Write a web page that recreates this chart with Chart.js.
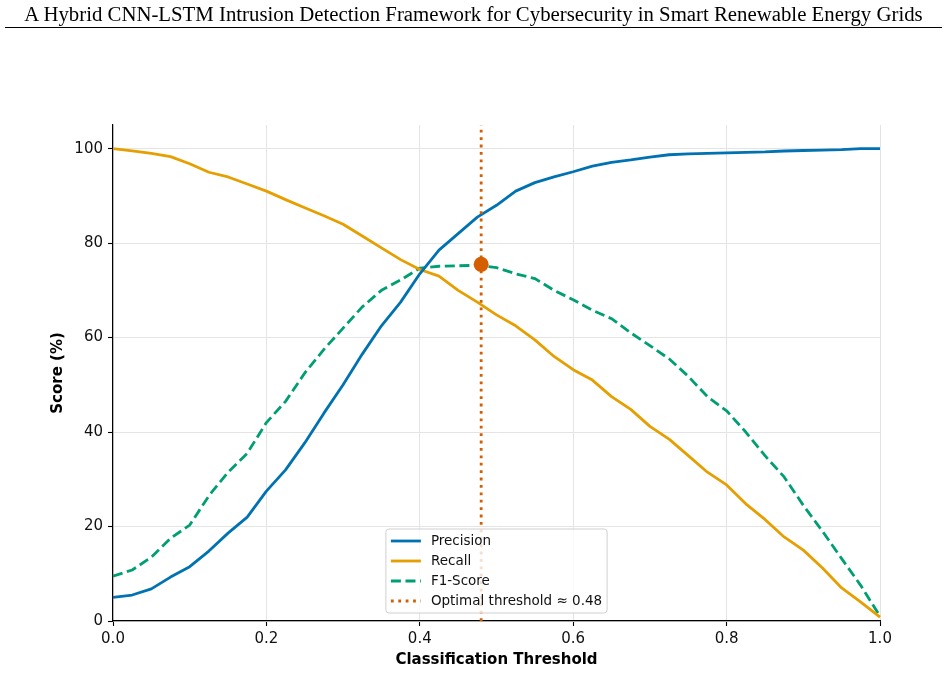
<!DOCTYPE html>
<html>
<head>
<meta charset="utf-8">
<title>Precision / Recall / F1 vs threshold</title>
<script src="https://cdn.jsdelivr.net/npm/chart.js@4.4.1/dist/chart.umd.min.js"></script>
<style>
    html, body { margin: 0; padding: 0; background: #fff; }
    body { width: 948px; height: 673px; position: relative; overflow: hidden; }
    #header {
        position: absolute; left: 5px; top: 0; width: 937px; height: 27px;
        border-bottom: 1.3px solid #000;
        font-family: "Liberation Serif", "Times New Roman", serif;
        font-size: 20.8px; line-height: 28px; text-align: center; color: #000;
        white-space: nowrap;
    }
    #chart { position: absolute; left: 0; top: 0; }
</style>
</head>
<body>
<canvas id="chart" width="948" height="673"></canvas>
<div id="header">A Hybrid CNN-LSTM Intrusion Detection Framework for Cybersecurity in Smart Renewable Energy Grids</div>
<script>
// --- datos ---
const thresholds = [
    0, 0.025, 0.05, 0.075, 0.1, 0.125, 0.15, 0.175, 0.2, 0.225,
    0.25, 0.275, 0.3, 0.325, 0.35, 0.375, 0.4, 0.425, 0.45, 0.475,
    0.5, 0.525, 0.55, 0.575, 0.6, 0.625, 0.65, 0.675, 0.7, 0.725,
    0.75, 0.775, 0.8, 0.825, 0.85, 0.875, 0.9, 0.925, 0.95, 0.975, 1.0
];
const precision = [
    5.0, 5.5, 6.8, 9.3, 11.5, 14.8, 18.6, 22.0, 27.5, 32.0,
    37.7, 44.0, 50.0, 56.5, 62.5, 67.5, 73.5, 78.5, 82.0, 85.5,
    88.0, 91.0, 92.8, 94.0, 95.1, 96.3, 97.1, 97.6, 98.2, 98.7,
    98.9, 99.0, 99.1, 99.2, 99.3, 99.5, 99.6, 99.7, 99.8, 100, 100
];
const recall = [
    100, 99.5, 99.0, 98.3, 96.8, 95.0, 94.0, 92.5, 91.0, 89.2,
    87.5, 85.8, 84.0, 81.5, 79.0, 76.5, 74.4, 73.0, 70.0, 67.5,
    64.8, 62.5, 59.5, 56.0, 53.2, 51.0, 47.5, 44.8, 41.2, 38.5,
    35.0, 31.5, 28.8, 24.8, 21.5, 17.8, 15.0, 11.2, 7.0, 4.0, 0.8
];
const f1Score = [
    9.5, 10.8, 13.5, 17.5, 20.3, 26.5, 31.5, 35.5, 42.0, 46.5,
    52.5, 57.5, 62.0, 66.5, 70.0, 72.2, 74.7, 75.1, 75.2, 75.3,
    74.8, 73.5, 72.5, 70.0, 68.0, 65.8, 64.0, 61.0, 58.3, 55.5,
    51.8, 47.5, 44.5, 40.0, 35.0, 30.5, 24.5, 19.0, 13.2, 7.5, 1.0
];
const optimalThreshold = 0.48;
const optimalF1 = 75.5;
const xTicks = [0, 0.2, 0.4, 0.6, 0.8, 1.0];
const yTicks = [0, 20, 40, 60, 80, 100];

const toPoints = (xs, ys) => xs.map((x, i) => ({ x: x, y: ys[i] }));

// leyenda propia dentro del area del grafico (abajo, centrada)
const innerLegend = {
    id: 'innerLegend',
    afterDraw(chart) {
        const ctx = chart.ctx;
        const area = chart.chartArea;
        const items = chart.data.datasets.filter(d => d.label);
        ctx.save();
        ctx.font = '13.5px "DejaVu Sans"';
        const textW = Math.max(...items.map(d => ctx.measureText(d.label).width));
        const w = 45 + textW + 5;
        const h = items.length * 20 + 4;
        const left = (area.left + area.right) / 2 - w / 2;
        const top = area.bottom - 8 - h;

        ctx.beginPath();
        ctx.roundRect(left, top, w, h, 3);
        ctx.fillStyle = 'rgba(255,255,255,0.8)';
        ctx.fill();
        ctx.lineWidth = 1;
        ctx.strokeStyle = '#d0d0d0';
        ctx.stroke();

        items.forEach((d, i) => {
            const y = top + 12 + i * 20;
            ctx.beginPath();
            ctx.setLineDash(d.borderDash || []);
            ctx.lineWidth = d.borderWidth;
            ctx.strokeStyle = d.borderColor;
            ctx.lineCap = 'butt';
            ctx.moveTo(left + 5, y);
            ctx.lineTo(left + 35, y);
            ctx.stroke();
            ctx.setLineDash([]);
            ctx.fillStyle = '#111';
            ctx.textBaseline = 'middle';
            ctx.textAlign = 'left';
            ctx.fillText(d.label, left + 45, y);
        });
        ctx.restore();
    }
};

const ctx = document.getElementById('chart').getContext('2d');
new Chart(ctx, {
    type: 'line',
    data: {
        datasets: [
            {
                // punto optimo (encima de todo)
                data: [{ x: optimalThreshold, y: optimalF1 }],
                showLine: false,
                pointRadius: 7.5,
                pointStyle: 'circle',
                pointBackgroundColor: '#D55E00',
                pointBorderColor: '#D55E00',
                pointBorderWidth: 0,
                order: 0
            },
            {
                label: 'Precision',
                data: toPoints(thresholds, precision),
                borderColor: '#0072B2',
                borderWidth: 2.8,
                order: 2
            },
            {
                label: 'Recall',
                data: toPoints(thresholds, recall),
                borderColor: '#E69F00',
                borderWidth: 2.8,
                order: 3
            },
            {
                label: 'F1-Score',
                data: toPoints(thresholds, f1Score),
                borderColor: '#009E73',
                borderWidth: 2.8,
                borderDash: [10, 4.6],
                order: 4
            },
            {
                label: 'Optimal threshold \u2248 ' + optimalThreshold.toFixed(2),
                data: [{ x: optimalThreshold, y: 0 }, { x: optimalThreshold, y: 105 }],
                borderColor: '#D55E00',
                borderWidth: 2.8,
                borderDash: [2.8, 4.6],
                borderCapStyle: 'butt',
                order: 1
            }
        ]
    },
    options: {
        responsive: false,
        animation: false,
        clip: false,
        elements: {
            point: { radius: 0 },
            line: { tension: 0, fill: false, borderJoinStyle: 'round' }
        },
        layout: { padding: { top: 125, right: 68, left: 40, bottom: 0 } },
        plugins: {
            legend: { display: false },
            tooltip: { enabled: false }
        },
        scales: {
            x: {
                type: 'linear',
                min: 0,
                max: 1,
                afterFit: s => { s.height = 52; },
                afterBuildTicks: s => { s.ticks = xTicks.map(v => ({ value: v })); },
                ticks: {
                    color: '#111',
                    font: { family: 'DejaVu Sans', size: 15 },
                    padding: 4,
                    callback: v => Number(v).toFixed(1)
                },
                grid: { color: '#e4e4e4', lineWidth: 1, tickLength: 5, tickColor: '#000', tickWidth: 1.1 },
                border: { color: '#000', width: 1.2 },
                title: {
                    display: true,
                    text: 'Classification Threshold',
                    color: '#000',
                    font: { family: 'DejaVu Sans', size: 15, weight: 'bold', lineHeight: 1.2 },
                    padding: { top: 0, bottom: 4 }
                }
            },
            y: {
                min: 0,
                max: 105,
                afterFit: s => { s.width = 73; },
                afterBuildTicks: s => { s.ticks = yTicks.map(v => ({ value: v })); },
                ticks: {
                    color: '#111',
                    font: { family: 'DejaVu Sans', size: 15 },
                    padding: 5
                },
                grid: { color: '#e4e4e4', lineWidth: 1, tickLength: 5, tickColor: '#000', tickWidth: 1.1 },
                border: { color: '#000', width: 1.2 },
                title: {
                    display: true,
                    text: 'Score (%)',
                    color: '#000',
                    font: { family: 'DejaVu Sans', size: 15, weight: 'bold', lineHeight: 1.2 },
                    padding: { top: 9, bottom: 0 }
                }
            }
        }
    },
    plugins: [innerLegend]
});
</script>
</body>
</html>
